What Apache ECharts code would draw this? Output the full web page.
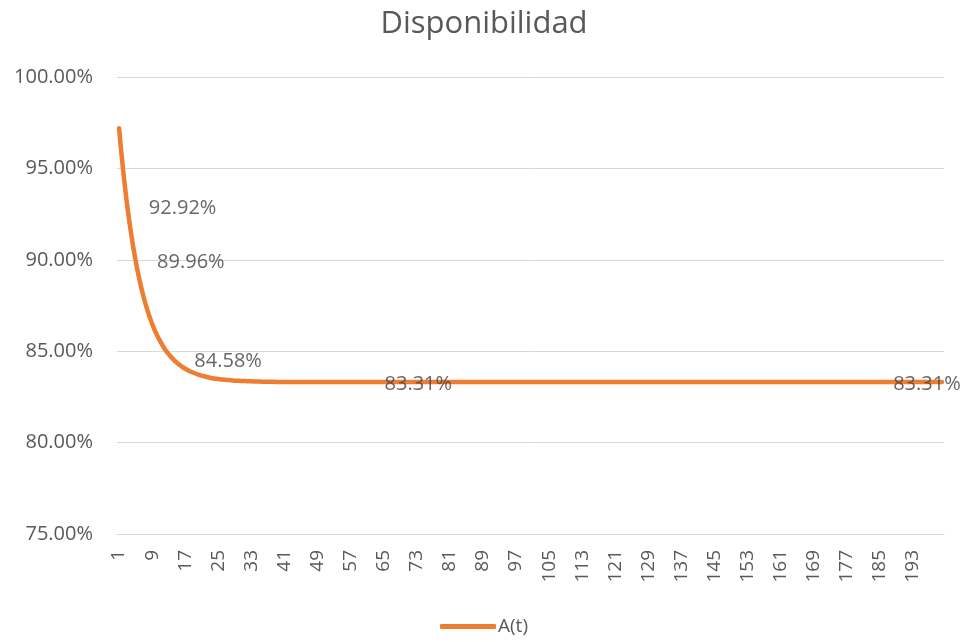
<!DOCTYPE html>
<html>
<head>
<meta charset="utf-8">
<script src="https://cdn.jsdelivr.net/npm/echarts@6/dist/echarts.min.js"></script>
<style>html,body{margin:0;padding:0;background:#fff}#c{width:968px;height:642px}</style>
</head>
<body>
<div id="c"></div>
<script>
var chartTitle = 'Disponibilidad';
var seriesName = 'A(t)';
var tFirst = 1, tLast = 200;
var yTicks = [75, 80, 85, 90, 95, 100];
// A(t) in percent, t = 1..200
var availability = [
  97.20, 94.86, 92.92, 91.31, 89.96, 88.84, 87.91, 87.14, 86.50, 85.96, 85.52, 85.14,
  84.84, 84.58, 84.37, 84.19, 84.04, 83.92, 83.82, 83.73, 83.66, 83.60, 83.55, 83.51,
  83.48, 83.45, 83.43, 83.41, 83.39, 83.38, 83.37, 83.36, 83.35, 83.34, 83.34, 83.33,
  83.33, 83.33, 83.32, 83.32, 83.32, 83.32, 83.32, 83.32,
  83.31, 83.31, 83.31, 83.31, 83.31, 83.31, 83.31, 83.31, 83.31, 83.31, 83.31, 83.31,
  83.31, 83.31, 83.31, 83.31, 83.31, 83.31, 83.31, 83.31, 83.31, 83.31, 83.31, 83.31,
  83.31, 83.31, 83.31, 83.31, 83.31, 83.31, 83.31, 83.31, 83.31, 83.31, 83.31, 83.31,
  83.31, 83.31, 83.31, 83.31, 83.31, 83.31, 83.31, 83.31, 83.31, 83.31, 83.31, 83.31,
  83.31, 83.31, 83.31, 83.31, 83.31, 83.31, 83.31, 83.31, 83.31, 83.31, 83.31, 83.31,
  83.31, 83.31, 83.31, 83.31, 83.31, 83.31, 83.31, 83.31, 83.31, 83.31, 83.31, 83.31,
  83.31, 83.31, 83.31, 83.31, 83.31, 83.31, 83.31, 83.31, 83.31, 83.31, 83.31, 83.31,
  83.31, 83.31, 83.31, 83.31, 83.31, 83.31, 83.31, 83.31, 83.31, 83.31, 83.31, 83.31,
  83.31, 83.31, 83.31, 83.31, 83.31, 83.31, 83.31, 83.31, 83.31, 83.31, 83.31, 83.31,
  83.31, 83.31, 83.31, 83.31, 83.31, 83.31, 83.31, 83.31, 83.31, 83.31, 83.31, 83.31,
  83.31, 83.31, 83.31, 83.31, 83.31, 83.31, 83.31, 83.31, 83.31, 83.31, 83.31, 83.31,
  83.31, 83.31, 83.31, 83.31, 83.31, 83.31, 83.31, 83.31, 83.31, 83.31, 83.31, 83.31,
  83.31, 83.31, 83.31, 83.31, 83.31, 83.31, 83.31, 83.31, 83.31, 83.31, 83.31, 83.31
];
// t values that carry a data label
var labelledT = [3, 5, 14, 60, 183];

var categories = [];
for (var t = tFirst; t <= tLast; t++) categories.push(String(t));
var labelPoints = labelledT.map(function (t) { return [String(t), availability[t - 1]]; });

var FONT = '"Open Sans", "Liberation Sans", sans-serif';
var chart = echarts.init(document.getElementById('c'), null, {renderer: 'canvas'});
chart.setOption({
  animation: false,
  backgroundColor: '#ffffff',
  title: {
    text: chartTitle, left: 'center', top: 4,
    textStyle: {fontFamily: FONT, fontSize: 31, fontWeight: 'normal', color: '#595959'}
  },
  legend: {
    data: [seriesName], bottom: 1, left: 'center',
    icon: 'roundRect', itemWidth: 56, itemHeight: 5, itemGap: 10,
    textStyle: {fontFamily: FONT, fontSize: 19, color: '#595959', padding: [0, 0, 0, -3]}
  },
  grid: {left: 117, right: 24, top: 77, bottom: 108},
  xAxis: {
    type: 'category', data: categories, boundaryGap: true,
    axisLine: {lineStyle: {color: '#D9D9D9', width: 1}},
    axisTick: {show: false},
    axisLabel: {interval: 7, rotate: 90, margin: 16, fontFamily: FONT, fontSize: 19, color: '#595959'}
  },
  yAxis: {
    type: 'value', min: yTicks[0], max: yTicks[yTicks.length - 1], interval: 5,
    axisLine: {show: false}, axisTick: {show: false},
    splitLine: {lineStyle: {color: '#D9D9D9', width: 1}},
    axisLabel: {margin: 24, fontFamily: FONT, fontSize: 20, color: '#595959',
      formatter: function (v) { return v.toFixed(2) + '%'; }}
  },
  series: [
    {
      name: seriesName, type: 'line', data: availability,
      showSymbol: false, smooth: true,
      lineStyle: {color: '#ED7D31', width: 4.5, cap: 'round'},
      itemStyle: {color: '#ED7D31'}
    },
    {
      type: 'scatter', data: labelPoints, symbolSize: 1, z: 5,
      itemStyle: {color: 'rgba(0,0,0,0)'},
      label: {
        show: true, position: 'right', distance: 21, offset: [0, 2],
        fontFamily: FONT, fontSize: 20, color: '#404040',
        formatter: function (p) { return p.value[1].toFixed(2) + '%'; }
      }
    }
  ]
});
</script>
</body>
</html>
